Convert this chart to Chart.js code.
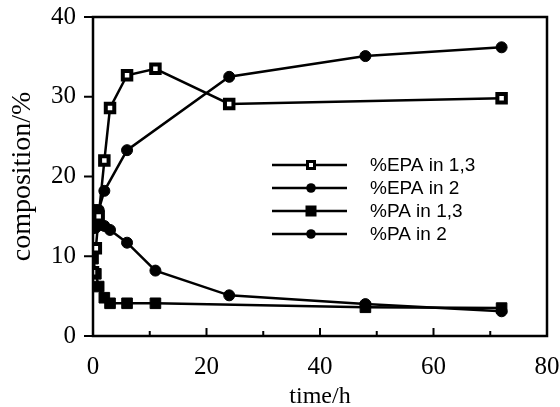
<!DOCTYPE html>
<html>
<head>
<meta charset="utf-8">
<script src="https://cdn.jsdelivr.net/npm/chart.js@4"></script>
<style>
  body { margin: 0; background: #fff; }
  #wrap { width: 560px; height: 407px; }
</style>
</head>
<body>
<div id="wrap"><canvas id="chart"></canvas></div>
<script>
// sampling times (h) shared by all series, null = no point at that time
const times = [0, 0.5, 1, 2, 3, 6, 11, 24, 48, 72];
const epa13 = [8.0, 11.0, 15.0, 22.0, 28.6, 32.7, 33.5, 29.1, null, 29.8];
const epa2  = [13.5, 15.8, 15.8, 18.2, null, 23.3, null, 32.5, 35.1, 36.2];
const pa13  = [9.7, 7.8, 6.2, 4.8, 4.1, 4.1, 4.1, null, 3.6, 3.5];
const pa2   = [15.8, 13.6, 14.0, 13.8, 13.3, 11.7, 8.2, 5.1, 4.0, 3.1];
const seriesNames = ['%EPA in 1,3', '%EPA in 2', '%PA in 1,3', '%PA in 2'];

const toPts = vals => times.map((t, i) => ({ x: t, y: vals[i] })).filter(p => p.y !== null);

const styles = [
  { pointStyle: 'rect', pointRadius: 6, pointBackgroundColor: '#fff', pointBorderWidth: 4 },
  { pointStyle: 'circle', pointRadius: 5.5, pointBackgroundColor: '#000', pointBorderWidth: 1 },
  { pointStyle: 'rect', pointRadius: 7.5, pointBackgroundColor: '#000', pointBorderWidth: 1 },
  { pointStyle: 'circle', pointRadius: 5.5, pointBackgroundColor: '#000', pointBorderWidth: 1 }
];

const datasets = [epa13, epa2, pa13, pa2].map((vals, i) => Object.assign({
  label: seriesNames[i],
  data: toPts(vals),
  borderColor: '#000',
  pointBorderColor: '#000',
  borderWidth: 2.5,
  tension: 0
}, styles[i]));

// frame, ticks and in-plot legend
const framePlugin = {
  id: 'frame',
  afterDraw(chart) {
    const ctx = chart.ctx;
    const a = chart.chartArea;
    const xs = chart.scales.x, ys = chart.scales.y;
    ctx.save();
    ctx.strokeStyle = '#000';
    ctx.lineWidth = 2.5;
    ctx.strokeRect(a.left, a.top, a.right - a.left, a.bottom - a.top);
    ctx.lineWidth = 2;
    ctx.beginPath();
    for (let v = 0; v <= 40; v += 10) {
      const y = ys.getPixelForValue(v);
      ctx.moveTo(a.left - 9, y); ctx.lineTo(a.left, y);
    }
    for (let v = 10; v < 80; v += 10) {
      const x = xs.getPixelForValue(v);
      const len = v % 20 === 0 ? 8 : 5;
      ctx.moveTo(x, a.bottom); ctx.lineTo(x, a.bottom - len);
    }
    ctx.stroke();

    // legend
    const rows = [165, 188, 211, 234];
    ctx.font = '19px "Liberation Sans", Arial, sans-serif';
    ctx.textBaseline = 'middle';
    ctx.fillStyle = '#000';
    chart.data.datasets.forEach((ds, i) => {
      const y = rows[i];
      ctx.lineWidth = 2.5;
      ctx.beginPath();
      ctx.moveTo(272, y); ctx.lineTo(347, y);
      ctx.stroke();
      const mx = 311;
      if (ds.pointStyle === 'rect') {
        const r = ds.pointBackgroundColor === '#fff' ? 3.5 : 5;
        ctx.fillStyle = ds.pointBackgroundColor;
        ctx.fillRect(mx - r, y - r, 2 * r, 2 * r);
        ctx.lineWidth = ds.pointBackgroundColor === '#fff' ? 3 : 1;
        ctx.strokeRect(mx - r, y - r, 2 * r, 2 * r);
      } else {
        ctx.fillStyle = '#000';
        ctx.beginPath();
        ctx.arc(mx, y, 4.8, 0, Math.PI * 2);
        ctx.fill();
      }
      ctx.fillStyle = '#000';
      ctx.fillText(ds.label, 370, y + 1);
    });
    ctx.restore();
  }
};

new Chart(document.getElementById('chart'), {
  type: 'line',
  data: { datasets: datasets },
  options: {
    responsive: true,
    maintainAspectRatio: false,
    animation: false,
    layout: { padding: { top: 17, right: 13, left: 0, bottom: 0 } },
    plugins: { legend: { display: false }, tooltip: { enabled: false } },
    scales: {
      x: {
        type: 'linear',
        min: 0, max: 80,
        ticks: { stepSize: 20, color: '#000', padding: 8,
          font: { family: '"Liberation Serif", "Times New Roman", serif', size: 25 } },
        grid: { display: false },
        border: { display: false },
        title: { display: true, text: 'time/h', color: '#000', padding: { top: 0, bottom: -4 },
          font: { family: '"Liberation Serif", "Times New Roman", serif', size: 24 } },
        afterFit: s => { s.height = 71; s.paddingLeft = 0; s.paddingRight = 0; }
      },
      y: {
        min: 0, max: 40,
        ticks: { stepSize: 10, color: '#000', padding: 17,
          font: { family: '"Liberation Serif", "Times New Roman", serif', size: 25 } },
        grid: { display: false, drawTicks: false },
        border: { display: false },
        title: { display: true, text: 'composition/%', color: '#000', padding: { top: 6, bottom: 0 },
          font: { family: '"Liberation Serif", "Times New Roman", serif', size: 28 } },
        afterFit: s => { s.width = 93; s.paddingTop = 0; s.paddingBottom = 0; }
      }
    }
  },
  plugins: [framePlugin]
});
</script>
</body>
</html>
